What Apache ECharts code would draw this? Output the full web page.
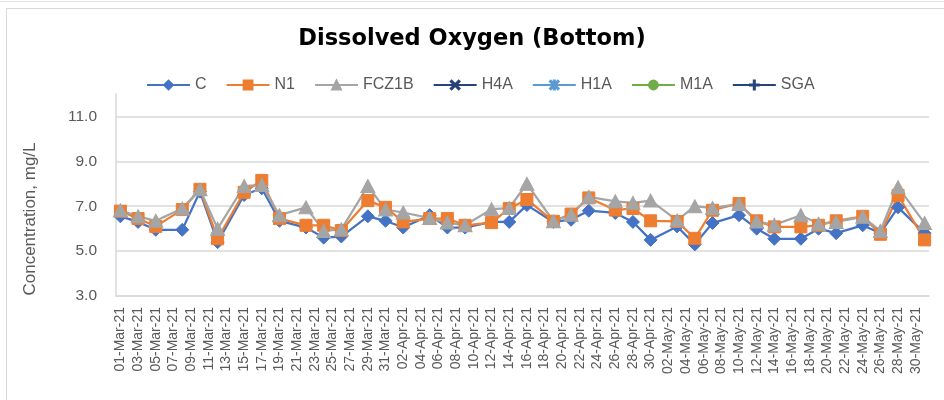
<!DOCTYPE html>
<html><head><meta charset="utf-8">
<script src="https://cdn.jsdelivr.net/npm/echarts@6/dist/echarts.min.js"></script>
<style>
html,body{margin:0;padding:0;background:#fff;overflow:hidden;}
#chart{position:absolute;left:0;top:0;width:944px;height:400px;}
.frame{position:absolute;left:6px;top:8px;width:960px;height:420px;border-left:1.5px solid #d9d9d9;border-top:1.5px solid #d9d9d9;pointer-events:none;}
.topline{position:absolute;left:0;top:1px;width:944px;height:0;border-top:1.5px solid #e3e3e3;pointer-events:none;}
</style></head><body>
<div id="chart"></div><div class="frame"></div><div class="topline"></div>
<script>
// ---- data ----
const axisStart = '2021-03-01';
const axisEnd = '2021-05-31';
const sampleDates = ['01-Mar-21','03-Mar-21','05-Mar-21','08-Mar-21','10-Mar-21','12-Mar-21','15-Mar-21','17-Mar-21','19-Mar-21','22-Mar-21','24-Mar-21','26-Mar-21','29-Mar-21','31-Mar-21','02-Apr-21','05-Apr-21','07-Apr-21','09-Apr-21','12-Apr-21','14-Apr-21','16-Apr-21','19-Apr-21','21-Apr-21','23-Apr-21','26-Apr-21','28-Apr-21','30-Apr-21','03-May-21','05-May-21','07-May-21','10-May-21','12-May-21','14-May-21','17-May-21','19-May-21','21-May-21','24-May-21','26-May-21','28-May-21','31-May-21'];
const valC = [6.55,6.3,5.95,5.95,7.65,5.4,7.5,7.8,6.35,6.05,5.6,5.65,6.55,6.35,6.05,6.6,6.05,6.05,6.3,6.3,7.05,6.3,6.4,6.8,6.7,6.3,5.5,6.1,5.3,6.25,6.6,6.0,5.55,5.55,6.0,5.8,6.15,5.8,6.95,5.8];
const valN1 = [6.78,6.45,6.1,6.85,7.75,5.55,7.62,8.15,6.45,6.15,6.15,5.92,7.25,6.95,6.3,6.45,6.45,6.15,6.27,6.9,7.3,6.33,6.65,7.37,6.83,6.9,6.35,6.32,5.57,6.82,7.12,6.35,6.08,6.08,6.15,6.35,6.55,5.75,7.48,5.5];
const valFCZ1B = [6.82,6.55,6.35,6.9,7.75,6.0,7.9,7.95,6.6,6.95,5.9,5.97,7.9,6.85,6.72,6.47,6.27,6.15,6.87,6.92,8.0,6.33,6.62,7.42,7.22,7.15,7.25,6.37,7.0,6.92,7.1,6.32,6.17,6.6,6.22,6.3,6.53,5.9,7.85,6.25];
const valH4A = [];
const valH1A = [];
const valM1A = [];
const valSGA = [];
const seriesNames = ['C','N1','FCZ1B','H4A','H1A','M1A','SGA'];
const yTicks = [3.0,5.0,7.0,9.0,11.0];

// ---- axis days (every calendar day of the date axis) ----
const MON = ['Jan','Feb','Mar','Apr','May','Jun','Jul','Aug','Sep','Oct','Nov','Dec'];
function fmt(d){ return String(d.getUTCDate()).padStart(2,'0')+'-'+MON[d.getUTCMonth()]+'-'+String(d.getUTCFullYear()).slice(2); }
const axisDays = [];
for (let t = Date.parse(axisStart+'T00:00:00Z'); t <= Date.parse(axisEnd+'T00:00:00Z'); t += 86400000) axisDays.push(fmt(new Date(t)));

const FONT = 'Liberation Sans';
const X_PATH = 'path://M1,0L5,4L9,0L10,1L6,5L10,9L9,10L5,6L1,10L0,9L4,5L0,1Z';
const STAR_PATH = 'path://M1,0L5,4L9,0L10,1L6,5L10,9L9,10L5,6L1,10L0,9L4,5L0,1ZM4.4,0H5.6V10H4.4Z';
const PLUS_PATH = 'path://M4.4,0H5.6V4.4H10V5.6H5.6V10H4.4V5.6H0V4.4H4.4Z';

function mk(name, color, symbol, size, vals){
  return {
    name, type:'line',
    data: sampleDates.slice(0, vals.length).map((d,i)=>[d, vals[i]]),
    symbol, symbolSize:size, showSymbol:true, showAllSymbol:true,
    lineStyle:{color, width:2.25},
    itemStyle:{color, borderColor:color, borderWidth:1},
    emphasis:{disabled:true}
  };
}

const chart = echarts.init(document.getElementById('chart'), null, {renderer:'canvas'});
chart.setOption({
  animation:false,
  backgroundColor:'transparent',
  title:{
    text:'Dissolved Oxygen (Bottom)', left:'center', top:23,
    textStyle:{fontFamily:'DejaVu Sans', fontWeight:'bold', fontSize:22.5, color:'#000'}
  },
  legend:{
    data:seriesNames, left:141, top:72, itemGap:19, itemWidth:43, itemHeight:11,
    textStyle:{fontFamily:FONT, fontSize:16, color:'#595959'}
  },
  grid:{left:116, right:15, top:94, bottom:104, containLabel:false, outerBoundsMode:'none'},
  xAxis:{
    type:'category', data:axisDays, boundaryGap:true,
    axisLine:{show:true, lineStyle:{color:'#d9d9d9', width:1.5}},
    axisTick:{show:false},
    axisLabel:{interval:1, rotate:90, margin:11, fontFamily:FONT, fontSize:14, color:'#595959'},
    splitLine:{show:false}
  },
  yAxis:{
    type:'value', min:yTicks[0], max:12, interval:2,
    name:'Concentration, mg/L', nameLocation:'middle', nameGap:77, nameRotate:90,
    nameTextStyle:{fontFamily:FONT, fontSize:17, color:'#595959', padding:[0,48,0,0]},
    axisLine:{show:true, lineStyle:{color:'#d9d9d9', width:1.5}},
    axisTick:{show:false},
    axisLabel:{margin:19, showMaxLabel:false, fontFamily:FONT, fontSize:15.5, color:'#595959',
      formatter:v=>Number(v).toFixed(1)},
    splitLine:{show:true, showMaxLine:false, lineStyle:{color:'#d9d9d9', width:1.5}}
  },
  series:[
    mk('C','#4472C4','diamond',[13,13],valC),
    mk('N1','#ED7D31','rect',[12,12],valN1),
    mk('FCZ1B','#A5A5A5','triangle',[14,13],valFCZ1B),
    mk('H4A','#264478',X_PATH,9,valH4A),
    mk('H1A','#5B9BD5',STAR_PATH,9,valH1A),
    mk('M1A','#70AD47','circle',9,valM1A),
    mk('SGA','#264478',PLUS_PATH,10,valSGA)
  ]
});
</script>
</body></html>
